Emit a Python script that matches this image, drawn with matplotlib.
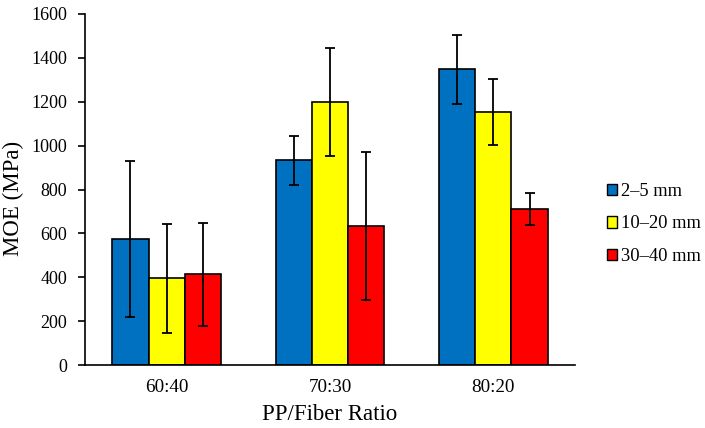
import matplotlib
matplotlib.use("Agg")
import matplotlib.pyplot as plt
import numpy as np
from matplotlib.patches import Patch

categories = ["60:40", "70:30", "80:20"]
series_names = ["2\u20135 mm", "10\u201320 mm", "30\u201340 mm"]
moe_2_5 = [574, 934, 1349]
moe_10_20 = [395, 1199, 1152]
moe_30_40 = [413, 635, 711]
err_2_5 = [357, 112, 157]
err_10_20 = [250, 247, 150]
err_30_40 = [236, 337, 72]
colors = ["#0070C0", "#FFFF00", "#FF0000"]

plt.rcParams['font.family'] = ['Liberation Serif', 'DejaVu Serif']

fig = plt.figure(figsize=(7.05, 4.28), dpi=100)
ax = fig.add_axes([85/705, 1-365/428, 490/705, 351/428])

x = np.arange(len(categories))
w = 0.2222
vals = [moe_2_5, moe_10_20, moe_30_40]
errs = [err_2_5, err_10_20, err_30_40]
for i in range(3):
    ax.bar(x + (i-1)*w, vals[i], w, color=colors[i], edgecolor='black', linewidth=1.2,
           yerr=errs[i], capsize=3.3, error_kw=dict(elinewidth=1.3, capthick=1.3, ecolor='black'), zorder=2)

ax.set_xlim(-0.5, 2.5)
ax.set_ylim(0, 1600)
ax.set_yticks(range(0, 1601, 200))
ax.set_xticks(x)
ax.set_xticklabels(categories)
ax.spines['top'].set_visible(False)
ax.spines['right'].set_visible(False)
ax.spines['left'].set_linewidth(1.2)
ax.spines['bottom'].set_linewidth(1.2)
ax.tick_params(axis='y', direction='out', length=5, width=1.2, labelsize=13.0, pad=8)
ax.tick_params(axis='x', length=0, labelsize=13.8, pad=10)
ax.set_ylabel("MOE (MPa)", fontsize=16.5)
ax.yaxis.set_label_coords(-0.124, 0.475)
ax.set_xlabel("PP/Fiber Ratio", fontsize=16.5, labelpad=6)

handles = [Patch(facecolor=c, edgecolor='black', linewidth=1.0) for c in colors]
fig.legend(handles, series_names, loc='center left', bbox_to_anchor=(590/705, 1-224/428),
           frameon=False, fontsize=13.3, handlelength=0.55, handleheight=0.55,
           handletextpad=0.25, labelspacing=0.86)

fig.savefig("out.png", dpi=100)
